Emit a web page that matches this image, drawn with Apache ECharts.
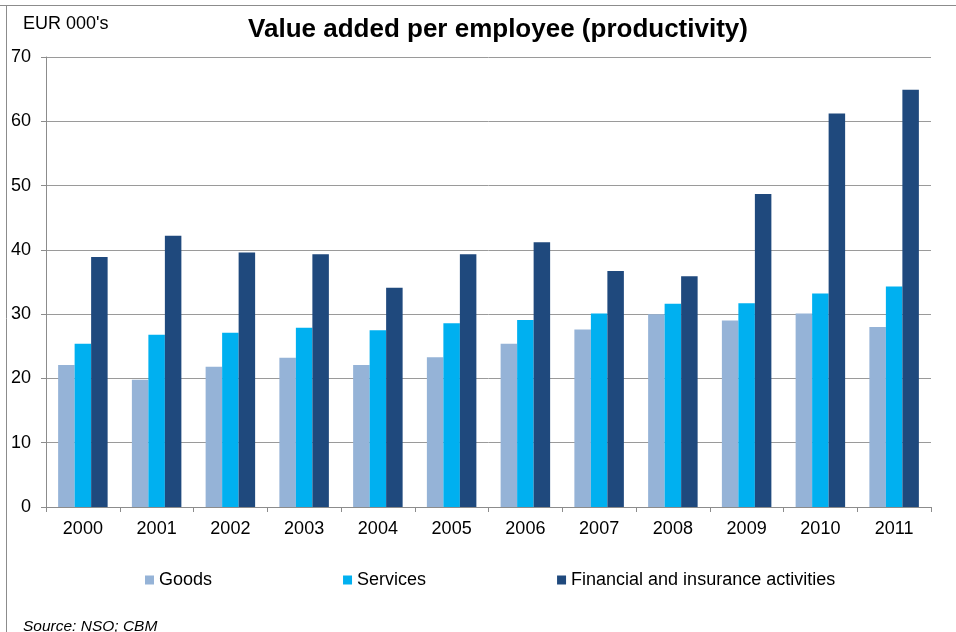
<!DOCTYPE html>
<html>
<head>
<meta charset="utf-8">
<script src="https://cdn.jsdelivr.net/npm/echarts@6/dist/echarts.min.js"></script>
<style>
  html, body { margin: 0; padding: 0; background: #ffffff; }
  #chart { width: 956px; height: 632px; }
</style>
</head>
<body>
<div id="chart"></div>
<script>
// Value added per employee, EUR thousands
const years = ['2000', '2001', '2002', '2003', '2004', '2005', '2006', '2007', '2008', '2009', '2010', '2011'];
const goods = [22.1, 19.8, 21.8, 23.2, 22.1, 23.3, 25.4, 27.6, 30.0, 29.0, 30.1, 28.0];
const services = [25.4, 26.8, 27.1, 27.9, 27.5, 28.6, 29.1, 30.1, 31.6, 31.7, 33.2, 34.3];
const financial = [38.9, 42.2, 39.6, 39.3, 34.1, 39.3, 41.2, 36.7, 35.9, 48.7, 61.2, 64.9];
const yTicks = [0, 10, 20, 30, 40, 50, 60, 70];

const FONT = '"Liberation Sans", Arial, sans-serif';
const chart = echarts.init(document.getElementById('chart'));

function bar(name, data, color) {
  return {
    name: name,
    type: 'bar',
    data: data,
    barWidth: 16.5,
    barGap: '0%',
    itemStyle: { color: color },
    emphasis: { disabled: true }
  };
}

chart.setOption({
  animation: false,
  backgroundColor: '#ffffff',
  textStyle: { fontFamily: FONT },
  title: [
    {
      text: 'Value added per employee (productivity)',
      left: 493, top: 12, textAlign: 'center',
      textStyle: { fontFamily: FONT, fontSize: 26, fontWeight: 'bold', color: '#000000' }
    },
    {
      text: "EUR 000's",
      left: 18, top: 10,
      textStyle: { fontFamily: FONT, fontSize: 18, fontWeight: 'normal', color: '#000000' }
    },
    {
      text: 'Source: NSO; CBM',
      left: 18, top: 614,
      textStyle: { fontFamily: FONT, fontSize: 15.5, fontStyle: 'italic', fontWeight: 'normal', color: '#000000' }
    }
  ],
  legend: {
    left: 140, top: 566,
    itemWidth: 9, itemHeight: 9, itemGap: 131,
    icon: 'rect',
    textStyle: { fontFamily: FONT, fontSize: 18, color: '#000000' },
    data: ['Goods', 'Services', 'Financial and insurance activities']
  },
  grid: { left: 46, right: 25, top: 57, bottom: 125, containLabel: false },
  xAxis: {
    type: 'category',
    data: years,
    axisLine: { lineStyle: { color: '#8c8c8c', width: 1 } },
    axisTick: { show: true, length: 5, alignWithLabel: false, lineStyle: { color: '#8c8c8c' } },
    axisLabel: { fontFamily: FONT, fontSize: 18, color: '#000000', margin: 13 }
  },
  yAxis: {
    type: 'value',
    min: yTicks[0], max: yTicks[yTicks.length - 1], interval: 10,
    axisLine: { show: true, lineStyle: { color: '#8c8c8c', width: 1 } },
    axisTick: { show: true, length: 5, lineStyle: { color: '#8c8c8c' } },
    axisLabel: { fontFamily: FONT, fontSize: 18, color: '#000000', margin: 15 },
    splitLine: { lineStyle: { color: '#9a9a9a', width: 1 } }
  },
  graphic: [
    { type: 'line', shape: { x1: 0, y1: 5.5, x2: 956, y2: 5.5 }, style: { stroke: '#8c8c8c', lineWidth: 1 } },
    { type: 'line', shape: { x1: 6.5, y1: 5, x2: 6.5, y2: 632 }, style: { stroke: '#8c8c8c', lineWidth: 1 } }
  ],
  series: [
    bar('Goods', goods, '#95B3D7'),
    bar('Services', services, '#00B0F0'),
    bar('Financial and insurance activities', financial, '#1F497D')
  ]
});
</script>
</body>
</html>
